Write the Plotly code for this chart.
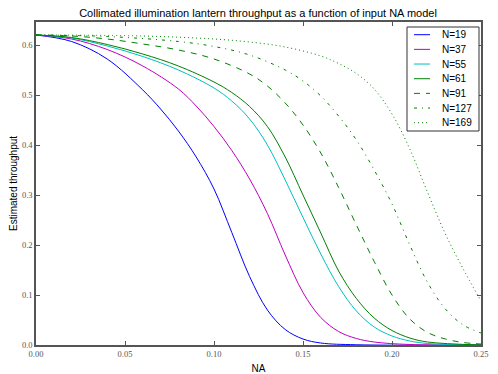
import plotly.graph_objects as go

# values (NA, estimated throughput)
labels = ["N=19", "N=37", "N=55", "N=61", "N=91", "N=127", "N=169"]

na_19 = [0, 0.02, 0.04, 0.06, 0.07, 0.08, 0.09, 0.10, 0.11, 0.12, 0.13, 0.14, 0.15, 0.16, 0.18, 0.25]
t_19 = [0.62, 0.607, 0.572, 0.510, 0.472, 0.428, 0.376, 0.312, 0.225, 0.137, 0.070, 0.031, 0.012, 0.004, 0.0005, 0.0]

na_37 = [0, 0.02, 0.04, 0.06, 0.08, 0.09, 0.10, 0.11, 0.12, 0.13, 0.14, 0.15, 0.16, 0.17, 0.18, 0.19, 0.21, 0.25]
t_37 = [0.62, 0.612, 0.591, 0.558, 0.512, 0.478, 0.437, 0.389, 0.332, 0.263, 0.180, 0.105, 0.055, 0.027, 0.013, 0.006, 0.001, 0.0]

na_55 = [0, 0.02, 0.04, 0.06, 0.08, 0.10, 0.11, 0.12, 0.13, 0.14, 0.15, 0.16, 0.17, 0.18, 0.19, 0.20, 0.21, 0.22, 0.25]
t_55 = [0.62, 0.614, 0.598, 0.577, 0.550, 0.514, 0.488, 0.452, 0.400, 0.330, 0.255, 0.182, 0.117, 0.068, 0.036, 0.018, 0.008, 0.003, 0.0]

na_61 = [0, 0.02, 0.04, 0.06, 0.08, 0.10, 0.11, 0.12, 0.13, 0.14, 0.15, 0.16, 0.17, 0.18, 0.19, 0.20, 0.21, 0.22, 0.25]
t_61 = [0.62, 0.615, 0.601, 0.582, 0.558, 0.526, 0.505, 0.477, 0.437, 0.376, 0.300, 0.224, 0.148, 0.093, 0.054, 0.029, 0.014, 0.006, 0.0]

na_91 = [0, 0.02, 0.04, 0.06, 0.08, 0.10, 0.12, 0.13, 0.14, 0.15, 0.16, 0.17, 0.18, 0.19, 0.20, 0.21, 0.22, 0.23, 0.24, 0.25]
t_91 = [0.62, 0.618, 0.612, 0.602, 0.590, 0.572, 0.542, 0.518, 0.484, 0.440, 0.384, 0.315, 0.240, 0.167, 0.100, 0.052, 0.025, 0.012, 0.005, 0.002]

na_127 = [0, 0.04, 0.08, 0.10, 0.12, 0.14, 0.15, 0.16, 0.17, 0.18, 0.19, 0.20, 0.21, 0.22, 0.23, 0.24, 0.25]
t_127 = [0.62, 0.617, 0.607, 0.597, 0.580, 0.550, 0.528, 0.498, 0.458, 0.410, 0.350, 0.282, 0.200, 0.125, 0.072, 0.040, 0.024]

na_169 = [0, 0.06, 0.10, 0.12, 0.14, 0.16, 0.17, 0.18, 0.19, 0.20, 0.21, 0.22, 0.23, 0.24, 0.25]
t_169 = [0.62, 0.618, 0.612, 0.606, 0.596, 0.578, 0.563, 0.543, 0.512, 0.462, 0.392, 0.305, 0.222, 0.152, 0.088]

series = [(na_19, t_19), (na_37, t_37), (na_55, t_55), (na_61, t_61),
          (na_91, t_91), (na_127, t_127), (na_169, t_169)]

# old matplotlib colour letters b, m, c, g
colors = ["#0000ff", "#bf00bf", "#00bfbf", "#008000", "#008000", "#008000", "#008000"]
dashes = ["solid", "solid", "solid", "solid", "6px,6px", "3px,5px,1px,5px", "1px,3px"]

fig = go.Figure()
for (xs, ys), name, c, d in zip(series, labels, colors, dashes):
    fig.add_trace(go.Scatter(x=xs, y=ys, mode="lines", name=name,
                             line=dict(color=c, width=1, dash=d, shape="spline", smoothing=1.0),
                             showlegend=False))

# hand-built legend box, matplotlib style (plotly's own rows are too tall)
fig.add_shape(type="rect", xref="paper", yref="paper",
              x0=(407 - 36) / 445, x1=(479 - 36) / 445,
              y0=(345 - 131) / 323, y1=(345 - 27) / 323,
              line=dict(color="#333", width=1), fillcolor="white", layer="above")
for i, (name, c, d) in enumerate(zip(labels, colors, dashes)):
    yy = (345 - (34.7 + i * 14.67)) / 323
    fig.add_shape(type="line", xref="paper", yref="paper",
                  x0=(414 - 36) / 445, x1=(430 - 36) / 445, y0=yy, y1=yy,
                  line=dict(color=c, width=1, dash=d), layer="above")
    fig.add_annotation(x=(440 - 36) / 445, y=yy, xref="paper", yref="paper",
                       text=name, showarrow=False, xanchor="left", yanchor="middle",
                       font=dict(family="Liberation Sans", size=10, color="black"))

tick_font = dict(family="Liberation Serif", size=8.5, color="#555")
axis_common = dict(showline=True, linecolor="#555", linewidth=1.5, mirror="ticks",
                   ticks="inside", ticklen=4, tickcolor="#555", showgrid=False,
                   zeroline=False, tickfont=tick_font, automargin=False)
label_font = dict(family="Liberation Sans", size=10, color="black")

fig.update_xaxes(range=[0, 0.25], tickvals=[0, 0.05, 0.1, 0.15, 0.2, 0.25],
                 tickformat=".2f", title=dict(text="NA", standoff=9, font=label_font),
                 **axis_common)
fig.update_yaxes(range=[0, 0.646], tickvals=[0, 0.1, 0.2, 0.3, 0.4, 0.5, 0.6],
                 tickformat=".1f", title=dict(text="Estimated throughput", standoff=2, font=label_font),
                 **axis_common)

# page body adds an 8px margin, so the figure is 8px smaller each way
fig.update_layout(
    width=490, height=366,
    margin=dict(l=28, r=17, t=14, b=29),
    paper_bgcolor="white", plot_bgcolor="white",
    title=dict(text="Collimated illumination lantern throughput as a function of input NA model",
               x=250 / 490, xanchor="center", y=1 - 5.5 / 366, yanchor="middle",
               font=dict(family="Liberation Sans", size=11, color="black")),
)

fig.write_html("out.html")
